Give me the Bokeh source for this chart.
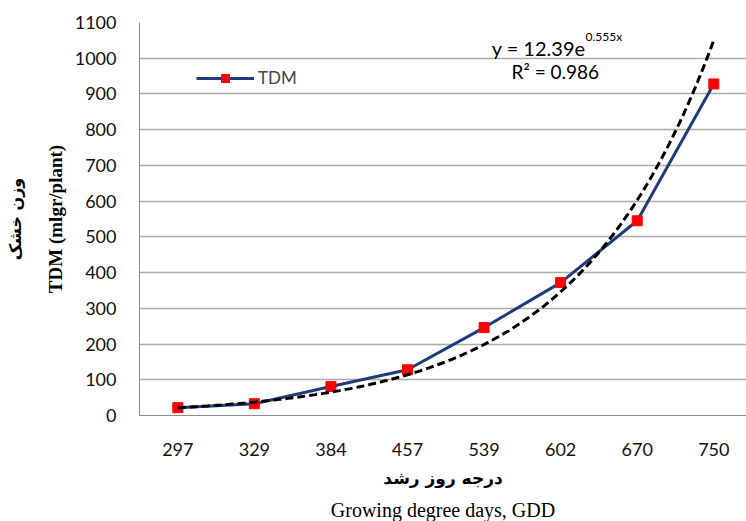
import numpy as np
from bokeh.plotting import figure
from bokeh.models import (FixedTicker, Title, Label, Legend, LegendItem, ColumnDataSource,
                          Range1d, LinearAxis)
from bokeh.embed import file_html
from bokeh.resources import INLINE

# ---- data ----
gdd_labels = ["297", "329", "384", "457", "539", "602", "670", "750"]
tdm_values = [22, 33, 81, 128, 246, 372, 545, 928]
trend_a = 12.39   # from the chart's equation y = 12.39e^(0.555x)
trend_b = 0.555
r_squared = "0.986"
y_ticks = list(range(0, 1101, 100))

x_pos = list(range(1, len(gdd_labels) + 1))

# trendline from the displayed equation
tx = np.linspace(1, len(gdd_labels), 200)
ty = trend_a * np.exp(trend_b * tx)

p = figure(width=746, height=521, output_backend="svg", toolbar_location=None,
           x_range=Range1d(0.5, 8.427), y_range=Range1d(0, 1100),
           min_border_left=139, min_border_right=0, min_border_top=22, min_border_bottom=106)
p.outline_line_color = None
p.background_fill_color = "white"
p.border_fill_color = "white"

# axes
p.xaxis.ticker = FixedTicker(ticks=x_pos)
p.xaxis.major_label_overrides = {i: lab for i, lab in zip(x_pos, gdd_labels)}
p.yaxis.ticker = FixedTicker(ticks=y_ticks)
for ax in (p.xaxis, p.yaxis):
    ax.major_tick_line_color = None
    ax.minor_tick_line_color = None
    ax.axis_line_color = "#8C8C8C"
    ax.major_label_text_font = "Lato"
    ax.major_label_text_font_size = "18px"
    ax.major_label_text_color = "#111111"
p.xaxis.major_label_standoff = 21
p.yaxis.major_label_standoff = 17

p.yaxis.axis_label = "TDM (mlgr/plant)"
p.yaxis.axis_label_text_font = "Liberation Serif"
p.yaxis.axis_label_text_font_style = "bold"
p.yaxis.axis_label_text_font_size = "19px"
p.yaxis.axis_label_text_color = "black"
p.yaxis.axis_label_standoff = 6

p.xgrid.grid_line_color = None
p.ygrid.grid_line_color = "#ABABAB"
p.ygrid.grid_line_width = 1.5

# persian y label as an extra, tick-less axis
fa_axis = LinearAxis(ticker=FixedTicker(ticks=[]), axis_line_color=None,
                     major_tick_line_color=None, minor_tick_line_color=None,
                     major_label_text_font_size="0px",
                     axis_label="وزن خشک", axis_label_text_font="DejaVu Sans",
                     axis_label_text_font_style="bold", axis_label_text_font_size="16px",
                     axis_label_text_color="black", axis_label_standoff=17)
p.add_layout(fa_axis, "left")

# persian / english x titles
p.add_layout(Title(text="درجه روز رشد", text_font="DejaVu Sans", text_font_style="bold",
                   text_font_size="17px", align="center", text_color="black",
                   standoff=15), "below")
p.add_layout(Title(text="Growing degree days, GDD", text_font="Liberation Serif",
                   text_font_style="normal", text_font_size="20px", align="center",
                   text_color="black", standoff=2), "below")

# series
src = ColumnDataSource(dict(x=x_pos, y=tdm_values))
ln = p.line("x", "y", source=src, line_color="#1F3B7A", line_width=3)
mk = p.scatter("x", "y", source=src, marker="square", size=10,
               fill_color="#FF0000", line_color="#FF0000")
p.line(tx, ty, line_color="black", line_width=3, line_dash="8 4")

legend = Legend(items=[LegendItem(label="TDM", renderers=[ln, mk])],
                location=(57, 327), glyph_width=58, glyph_height=20,
                label_text_font="Lato", label_text_font_size="17px",
                label_standoff=4, padding=2, margin=0, spacing=0,
                border_line_color=None, background_fill_alpha=0)
p.add_layout(legend, "center")

# equation labels
p.add_layout(Label(x=6.325, y=1030, text="y = 12.39e", text_align="right",
                   text_baseline="middle", text_font="Lato", text_font_size="20px",
                   text_color="black"))
p.add_layout(Label(x=6.325, y=1060, text="0.555x", text_align="left",
                   text_baseline="middle", text_font="Lato", text_font_size="12px",
                   text_color="black"))
p.add_layout(Label(x=5.93, y=962, text="R² = " + r_squared, text_align="center",
                   text_baseline="middle", text_font="Lato", text_font_size="19px",
                   text_color="black"))

open("out.html", "w").write(file_html(p, INLINE))
